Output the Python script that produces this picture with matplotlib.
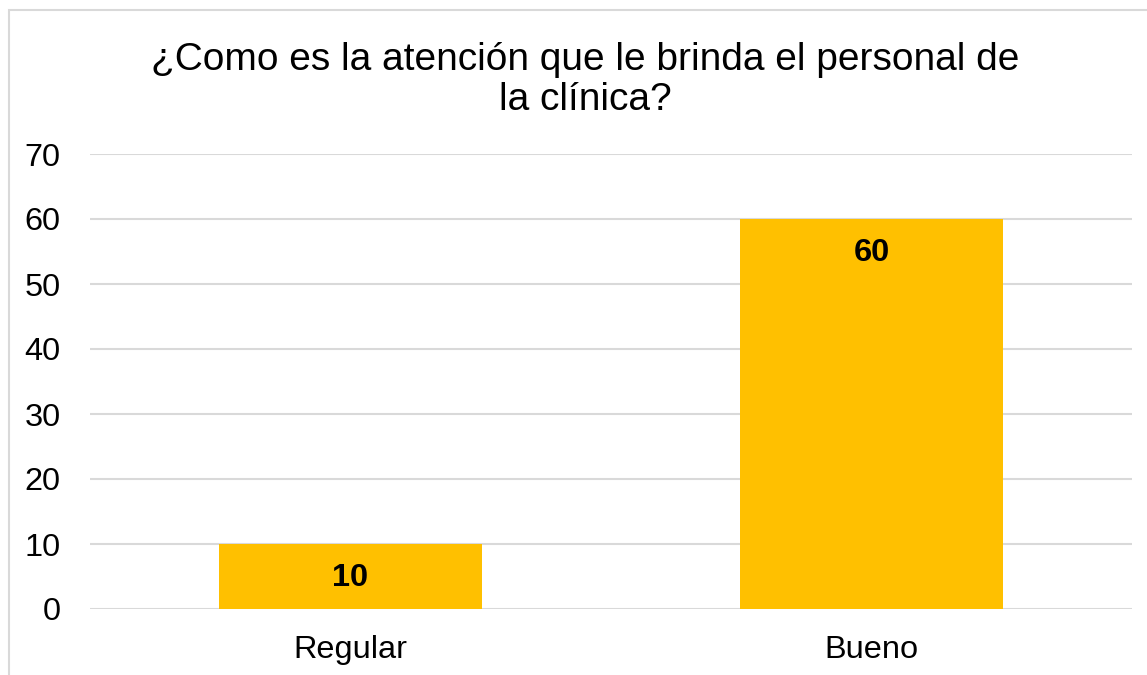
import matplotlib.pyplot as plt
from matplotlib.patches import Rectangle

categories = ['Regular', 'Bueno']
values = [10, 60]
y_ticks = [0, 10, 20, 30, 40, 50, 60, 70]
title = '¿Como es la atención que le brinda el personal de\nla clínica?'

plt.rcParams['font.family'] = ['Liberation Sans', 'DejaVu Sans']

fig = plt.figure(figsize=(11.47, 6.75), dpi=100)
ax = fig.add_axes([90 / 1147, 1 - 609 / 675, 1042 / 1147, 455 / 675])

x = list(range(len(categories)))
bars = ax.bar(x, values, width=0.503, color='#FFC000', zorder=3)
ax.set_xlim(-0.5, 1.5)
ax.set_ylim(0, 70)
ax.set_yticks(y_ticks)
ax.set_xticks(x)
ax.set_xticklabels(categories)
ax.tick_params(axis='both', length=0, labelsize=23.4, colors='black')
ax.tick_params(axis='y', pad=21)
ax.tick_params(axis='x', pad=19)
ax.grid(axis='y', color='#d9d9d9', linewidth=1.5, zorder=0)
for s in ax.spines.values():
    s.set_visible(False)

for b, v in zip(bars, values):
    ax.text(b.get_x() + b.get_width() / 2, v - 5.2, str(v), ha='center', va='center',
            fontsize=23.4, fontweight='bold', color='black', zorder=4)

fig.text(585 / 1147, 1 - 80 / 675, title, ha='center', va='center',
         fontsize=28, color='black', linespacing=1.14)

fig.patches.append(Rectangle((9 / 1147, -0.1), 1.2, 1 - 10 / 675 + 0.1,
                             transform=fig.transFigure, fill=False,
                             edgecolor='#d9d9d9', linewidth=1.5))

fig.savefig('out.png', dpi=100, facecolor='white')
